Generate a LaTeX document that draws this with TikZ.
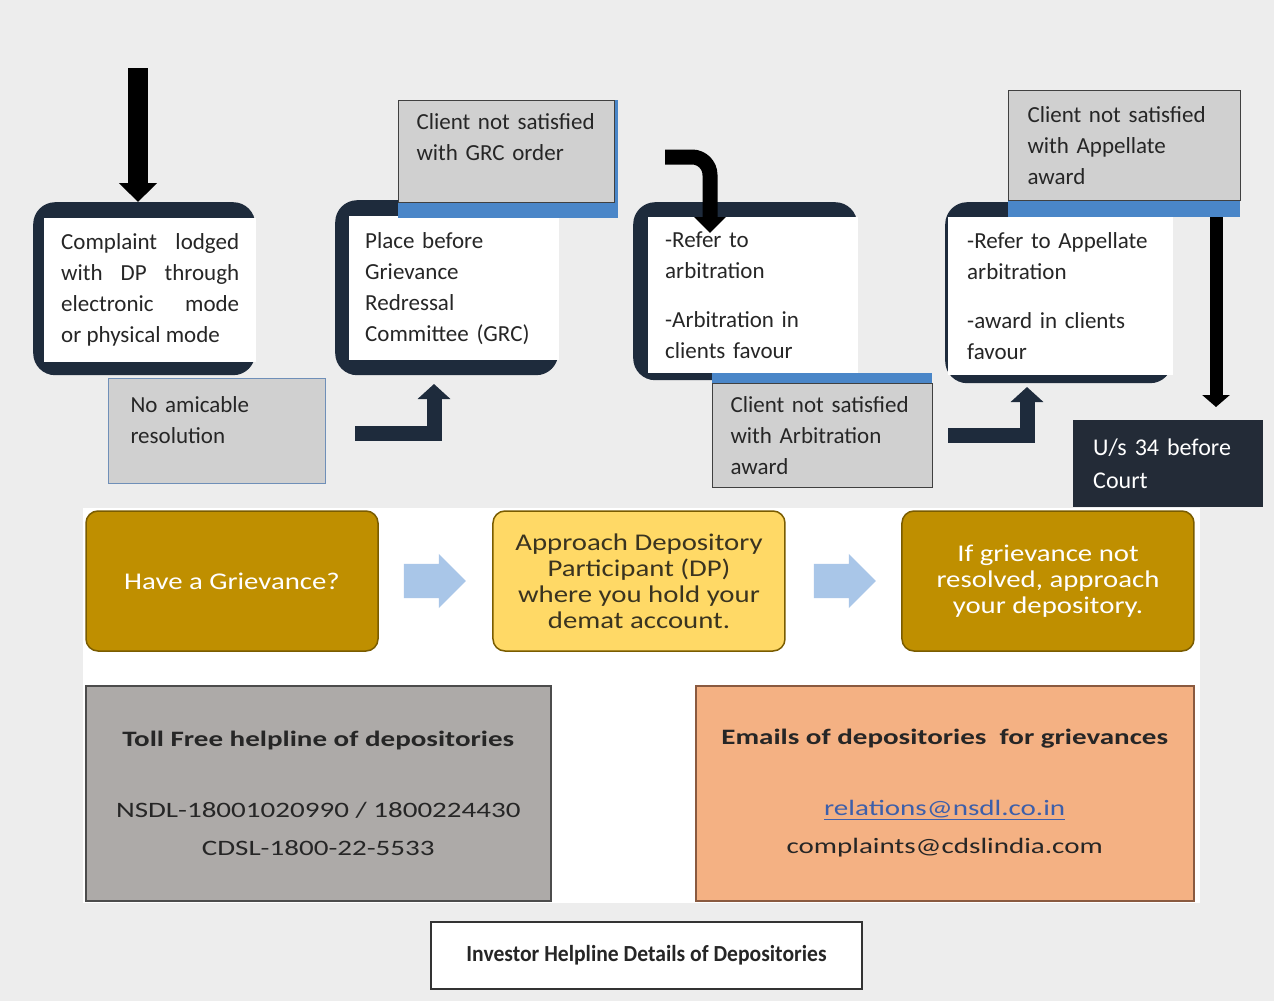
\documentclass[tikz,border=0pt]{standalone}
\usepackage{fontspec}
\setmainfont{Carlito}
\newfontfamily\midfont[FakeStretch=1.2]{Carlito}
\newfontfamily\lowfont[FakeStretch=1.32]{Carlito}
\newfontfamily\capfont[FakeStretch=0.94]{Carlito}
\usetikzlibrary{positioning,arrows.meta,shapes.arrows}

\definecolor{navy}{HTML}{1E2B3C}
\definecolor{courtBlue}{HTML}{232B37}
\definecolor{bgGrey}{HTML}{EDEDED}
\definecolor{boxGrey}{HTML}{D0D0D0}
\definecolor{barBlue}{HTML}{4A86C8}
\definecolor{steel}{HTML}{6F8FB8}
\definecolor{gold}{HTML}{BF8F00}
\definecolor{goldEdge}{HTML}{7A5C00}
\definecolor{lightGold}{HTML}{FFD966}
\definecolor{midText}{HTML}{3A3420}
\definecolor{chevBlue}{HTML}{A9C6E8}
\definecolor{tollGrey}{HTML}{ADAAA8}
\definecolor{peach}{HTML}{F4B183}
\definecolor{peachEdge}{HTML}{8A5A40}
\definecolor{linkBlue}{HTML}{3D5FAA}
\definecolor{txtDark}{HTML}{262626}

\tikzset{
  darkframe/.style={fill=navy, rounded corners=22pt, anchor=north west, inner sep=0pt},
  whitebox/.style={fill=white, anchor=north west, inner ysep=0pt, align=left,
    text=txtDark, font=\fontsize{23}{31}\selectfont},
  bluebar/.style={fill=barBlue, anchor=north west, inner sep=0pt},
  greybox/.style={fill=boxGrey, draw=black!75, line width=1pt, anchor=north west,
    inner ysep=0pt, align=left, text=txtDark, font=\fontsize{23}{31}\selectfont},
  midbox/.style={rounded corners=12pt, draw=goldEdge, line width=1.5pt, minimum width=292pt,
    minimum height=140pt, align=center, font=\midfont\fontsize{24}{26}\selectfont},
  chevron/.style={single arrow, fill=chevBlue, minimum height=62pt, minimum width=54pt,
    single arrow head extend=10pt, inner xsep=0pt, inner ysep=17pt},
  infobox/.style={anchor=north west, line width=1.5pt, minimum height=215pt, align=center,
    text=txtDark, font=\lowfont\fontsize{22}{38}\selectfont},
  bigarrow/.style={line width=20pt, -{Triangle[length=19pt,width=37pt]}},
  hookarrow/.style={line width=15pt, rounded corners=18pt, -{Triangle[length=16pt,width=31pt]}},
  navyarrow/.style={draw=navy, line width=15pt, line join=miter, -{Triangle[length=15pt,width=32pt]}},
  downarrow/.style={line width=13pt, -{Triangle[length=12pt,width=27pt]}}
}

\begin{document}
\begin{tikzpicture}[x=1pt,y=-1pt]
  \useasboundingbox (0,0) rectangle (1274,1001);
  \fill[bgGrey] (0,0) rectangle (1274,1001);
  \fill[white] (83,508) rectangle (1200,903);

  % steps of the complaint
  \node[darkframe, minimum width=222pt, minimum height=173pt] (frame1) at (33,202) {};
  \node[whitebox, align=justify, minimum width=212pt, minimum height=144pt, text width=178pt, inner xsep=17pt] (box1) at (44,218)
    {Complaint lodged\linebreak with DP through\linebreak electronic mode\linebreak or physical mode};
  \node[greybox, draw=steel, minimum width=217pt, minimum height=105pt, text width=173pt, inner xsep=22pt, text depth=53pt] (noamic) at (108,378)
    {No amicable\\resolution};

  \node[darkframe, minimum width=223pt, minimum height=175pt] (frame2) at (335,200) {};
  \node[whitebox, minimum width=210pt, minimum height=144pt, text width=178pt, inner xsep=16pt] (box2) at (349,216)
    {Place before\\Grievance\\Redressal\\Committee (GRC)};
  \node[bluebar, minimum width=220pt, minimum height=118pt] (bar2) at (398,100) {};
  \node[greybox, minimum width=216pt, minimum height=102pt, text width=180pt, inner xsep=18pt, text depth=60pt] (grc) at (398,100)
    {Client not satisfied\\with GRC order};

  \node[darkframe, minimum width=224pt, minimum height=178pt] (frame3) at (633,202) {};
  \node[whitebox, minimum width=210pt, minimum height=156pt, text width=176pt, inner xsep=17pt] (box3) at (648,217)
    {-Refer to\\arbitration\\[18pt]-Arbitration in\\clients favour};
  \node[bluebar, minimum width=220pt, minimum height=114pt] (bar3) at (712,373) {};
  \node[greybox, minimum width=220pt, minimum height=104pt, text width=184pt, inner xsep=18pt] (arb) at (712,383)
    {Client not satisfied\\with Arbitration\\award};

  \node[darkframe, minimum width=227pt, minimum height=181pt] (frame4) at (945,202) {};
  \node[whitebox, minimum width=225pt, minimum height=158pt, text width=187pt, inner xsep=19pt] (box4) at (948,217)
    {-Refer to Appellate\\arbitration\\[18pt]-award in clients\\favour};
  \node[bluebar, minimum width=232pt, minimum height=127pt] (bar4) at (1008,90) {};
  \node[greybox, minimum width=232pt, minimum height=110pt, text width=194pt, inner xsep=19pt] (appel) at (1008,90)
    {Client not satisfied\\with Appellate\\award};

  \node[anchor=north west, fill=courtBlue, text=white, align=left, minimum width=190pt, minimum height=87pt,
    text width=150pt, inner xsep=20pt, inner ysep=0pt, font=\fontsize{24}{33}\selectfont] (court) at (1073,420)
    {U/s 34 before\\Court};

  % arrows between the steps
  \coordinate (in1) at (138,68);
  \coordinate (in2) at (355,433);
  \coordinate (up2) at (434,384);
  \coordinate (in3) at (665,157);
  \coordinate (dn3) at (710,233);
  \coordinate (in4) at (948,435);
  \coordinate (up4) at (1027,387);
  \coordinate (in5) at (1216,217);
  \draw[bigarrow] (in1) -- (in1 |- frame1.north);
  \draw[navyarrow] (in2) -| (up2);
  \draw[hookarrow] (in3) -| (dn3);
  \draw[navyarrow] (in4) -| (up4);
  \draw[downarrow, shorten >=13pt] (in5) -- (in5 |- court.north);

  % where to go
  \node[midbox, fill=gold, text=white] (grv) at (232,581) {Have a Grievance?};
  \node[chevron, right=25pt of grv] (ch1) {};
  \node[midbox, fill=lightGold, text=midText, right=26pt of ch1] (dp)
    {Approach Depository\\Participant (DP)\\where you hold your\\demat account.};
  \node[chevron, right=28pt of dp] (ch2) {};
  \node[midbox, fill=gold, text=white, right=25pt of ch2] (dep)
    {If grievance not\\resolved, approach\\your depository.};

  % helplines
  \node[infobox, fill=tollGrey, draw=black!70, minimum width=465pt] (toll) at (85,685)
    {\textbf{Toll Free helpline of depositories}\\[33pt]NSDL-18001020990 / 1800224430\\CDSL-1800-22-5533};
  \node[infobox, fill=peach, draw=peachEdge, minimum width=498pt] (mail) at (695,685)
    {\textbf{Emails of depositories\ \ for grievances}\\[33pt]\textcolor{linkBlue}{\underline{relations@nsdl.co.in}}\\complaints@cdslindia.com};
  \node[draw=black!80, line width=1.5pt, fill=white, minimum width=431pt, minimum height=67pt, text=txtDark,
    font=\capfont\bfseries\fontsize{23}{28}\selectfont] (cap) at (646.5,955.5)
    {Investor Helpline Details of Depositories};
\end{tikzpicture}
\end{document}
